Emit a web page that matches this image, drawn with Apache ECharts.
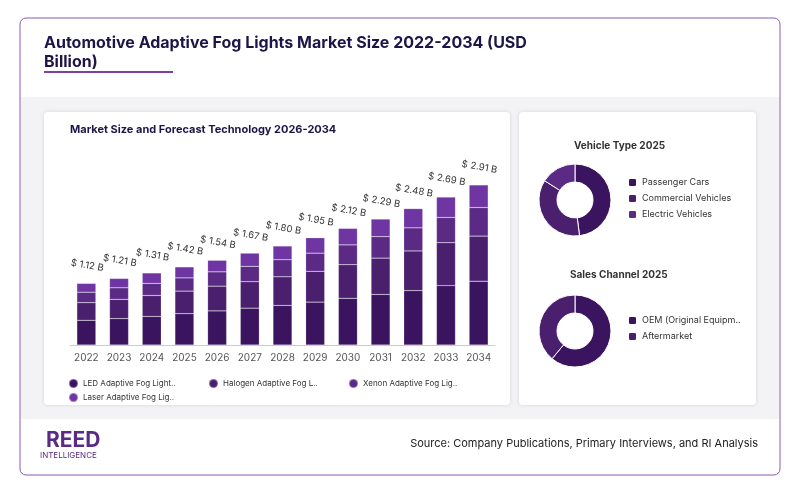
<!DOCTYPE html><html><head><meta charset="utf-8">
<script src="https://cdn.jsdelivr.net/npm/echarts@6/dist/echarts.min.js"></script>
<style>body{margin:0;background:#fff}#c{width:800px;height:493px}</style></head><body><div id="c"></div>
<script>
const years=['2022','2023','2024','2025','2026','2027','2028','2029','2030','2031','2032','2033','2034'];
const totals=[1.12,1.21,1.31,1.42,1.54,1.67,1.80,1.95,2.12,2.29,2.48,2.69,2.91];
const led=[.45,.48,.52,.57,.62,.67,.72,.78,.85,.92,.99,1.08,1.16];
const halogen=[.32,.35,.38,.41,.45,.48,.52,.56,.61,.66,.72,.78,.82];
const xenon=[.19,.21,.22,.24,.26,.28,.31,.33,.36,.39,.42,.46,.52];
const laser=[.16,.17,.19,.20,.21,.24,.25,.28,.30,.32,.35,.37,.41];
const techNames=['LED Adaptive Fog Light..','Halogen Adaptive Fog L..','Xenon Adaptive Fog Lig..','Laser Adaptive Fog Lig..'];
const vehNames=['Passenger Cars','Commercial Vehicles','Electric Vehicles'];
const vehVals=[48,36,16];
const chNames=['OEM (Original Equipm..','Aftermarket'];
const chVals=[61,39];
const cols=['#3b1460','#4a1f6e','#5a2a85','#6e35a3'];
const font='Inter, "Noto Sans", sans-serif';
const chart=echarts.init(document.getElementById('c'));
const techData=[led,halogen,xenon,laser];
const series=techData.map((d,i)=>({name:techNames[i],type:'bar',stack:'t',data:d,barWidth:19,
 itemStyle:{color:cols[i],borderColor:'rgba(255,255,255,0.35)',borderWidth:0.5},
 label:i===3?{show:true,position:'top',rotate:-10,distance:13,color:'#333',fontSize:9.5,fontFamily:font,
 formatter:p=>'$ '+totals[p.dataIndex].toFixed(2)+' B'}:{show:false}}));
function pie(name,vals,center){return {type:'pie',radius:[18,36],center,startAngle:90,clockwise:true,
 label:{show:false},itemStyle:{borderColor:'#fff',borderWidth:1},
 data:vals.map((v,i)=>({name:name[i],value:v,itemStyle:{color:cols[i]}}))};}
series.push(pie(vehNames,vehVals,[575,200]));
series.push(pie(chNames,chVals,[575,331]));
const lt={fontSize:8,color:'#333',fontFamily:font};
chart.setOption({
 animation:false,
 graphic:[
  {type:'rect',shape:{x:20,y:18,width:760,height:457,r:6},style:{fill:'#fff',stroke:'#8a5ab5',lineWidth:1},z:-10},
  {type:'rect',shape:{x:21,y:97,width:758,height:322},style:{fill:'#f3f3f5'},z:-9},
  {type:'rect',shape:{x:44,y:112,width:466,height:293,r:4},style:{fill:'#fff',shadowBlur:4,shadowColor:'rgba(0,0,0,0.12)'},z:-8},
  {type:'rect',shape:{x:519,y:112,width:237,height:293,r:4},style:{fill:'#fff',shadowBlur:4,shadowColor:'rgba(0,0,0,0.12)'},z:-8},
  {type:'text',left:44,top:34,style:{text:'Automotive Adaptive Fog Lights Market Size 2022-2034 (USD\nBillion)',fill:'#1c1647',font:'bold 16px '+font,lineHeight:19}},
  {type:'rect',shape:{x:44,y:71,width:129,height:2},style:{fill:'#7b3fa8'}},
  {type:'text',left:70,top:124,style:{text:'Market Size and Forecast Technology 2026-2034',fill:'#1c1647',font:'bold 11px '+font}},
  {type:'text',left:574,top:141,style:{text:'Vehicle Type 2025',fill:'#333',font:'bold 10px '+font}},
  {type:'text',left:570,top:270,style:{text:'Sales Channel 2025',fill:'#333',font:'bold 10px '+font}},
  {type:'text',left:46,top:430,style:{text:'REED',fill:'#5a2a85',font:'bold 21px '+font,letterSpacing:4}},
  {type:'text',left:40,top:452,style:{text:'INTELLIGENCE',fill:'#5a2a85',font:'8px '+font,letterSpacing:2.3}},
  {type:'text',right:42,top:438,style:{text:'Source: Company Publications, Primary Interviews, and RI Analysis',fill:'#222',font:'11px '+font}}
 ],
 grid:{left:70,right:305,top:169,bottom:148},
 xAxis:{type:'category',data:years,axisTick:{show:false},axisLine:{lineStyle:{color:'#ccc'}},
  axisLabel:{color:'#555',fontSize:10,fontFamily:font,margin:8}},
 yAxis:{type:'value',min:0,max:3.2,show:false,splitLine:{show:false}},
 legend:[
  {data:[techNames[0]],left:63,top:373,itemWidth:9,itemHeight:9,icon:'circle',textStyle:lt},
  {data:[techNames[1]],left:203,top:373,itemWidth:9,itemHeight:9,icon:'circle',textStyle:lt},
  {data:[techNames[2]],left:343,top:373,itemWidth:9,itemHeight:9,icon:'circle',textStyle:lt},
  {data:[techNames[3]],left:63,top:387,itemWidth:9,itemHeight:9,icon:'circle',textStyle:lt},
  {data:vehNames,orient:'vertical',left:622,top:172,itemWidth:9,itemHeight:9,itemGap:5,icon:'roundRect',
   textStyle:{fontSize:9,color:'#333',fontFamily:font}},
  {data:chNames,orient:'vertical',left:622,top:310,itemWidth:9,itemHeight:9,itemGap:5,icon:'roundRect',
   textStyle:{fontSize:9,color:'#333',fontFamily:font}}
 ],
 series
});
</script></body></html>
